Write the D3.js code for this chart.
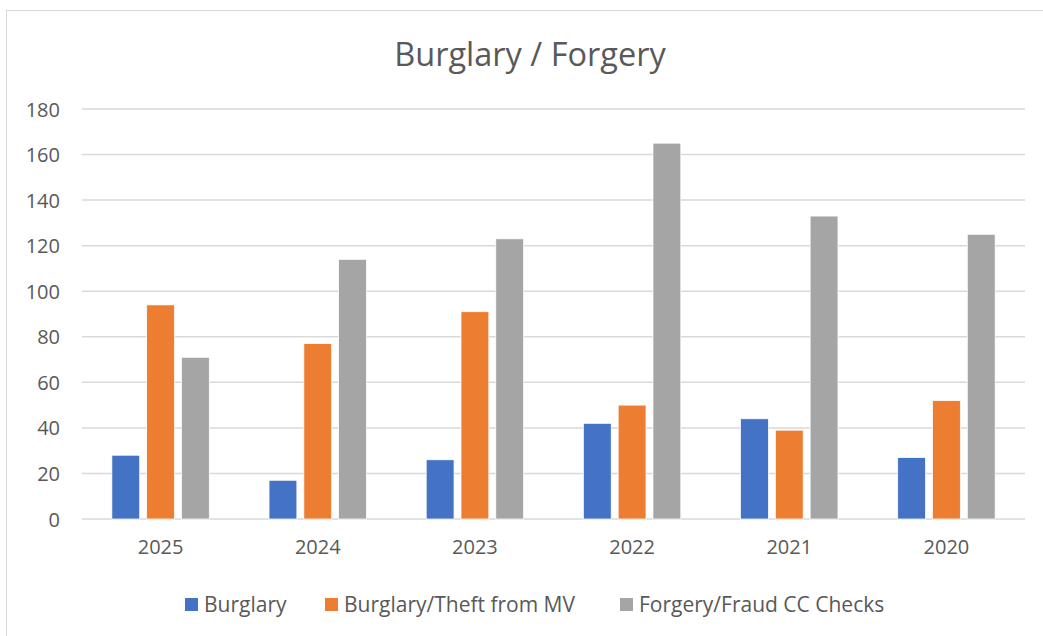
<!DOCTYPE html>
<html>
<head>
<meta charset="utf-8">
<script src="https://cdn.jsdelivr.net/npm/d3@7"></script>
<style>
  body { margin: 0; background: #fff; }
  text { font-family: "Open Sans", "Liberation Sans", sans-serif; fill: #595959; }
</style>
</head>
<body>
<div id="chart"></div>
<script>
var years = ["2025", "2024", "2023", "2022", "2021", "2020"];
var seriesNames = ["Burglary", "Burglary/Theft from MV", "Forgery/Fraud CC Checks"];
var burglary = [28, 17, 26, 42, 44, 27];
var theftMV = [94, 77, 91, 50, 39, 52];
var forgery = [71, 114, 123, 165, 133, 125];
var yTicks = [0, 20, 40, 60, 80, 100, 120, 140, 160, 180];
var colors = ["#4472c4", "#ed7d31", "#a5a5a5"];

var width = 1043, height = 636;
var margin = {left: 82, right: 18, top: 109, bottom: 117};

var svg = d3.select("#chart").append("svg")
  .attr("width", width)
  .attr("height", height);

// chart frame
svg.append("rect")
  .attr("x", 6.5).attr("y", 10.5)
  .attr("width", width).attr("height", height)
  .attr("fill", "none")
  .attr("stroke", "#d9d9d9");

svg.append("text")
  .attr("x", 530).attr("y", 66)
  .attr("text-anchor", "middle")
  .style("font-size", "32.5px")
  .text("Burglary / Forgery");

var x0 = d3.scaleBand()
  .domain(years)
  .range([margin.left, width - margin.right])
  .paddingInner(0.38)
  .paddingOuter(0.19);

var x1 = d3.scaleBand()
  .domain(d3.range(3))
  .range([0, x0.bandwidth()])
  .paddingInner(0.2);

var y = d3.scaleLinear()
  .domain([0, 180])
  .range([height - margin.bottom, margin.top]);

var grid = svg.append("g");
grid.selectAll("line")
  .data(yTicks)
  .enter().append("line")
  .attr("x1", margin.left).attr("x2", width - margin.right)
  .attr("y1", function(d) { return y(d); })
  .attr("y2", function(d) { return y(d); })
  .attr("stroke", "#d9d9d9")
  .attr("stroke-width", 1.5);

var yAxis = svg.append("g")
  .attr("transform", "translate(" + (margin.left - 22) + ",0)")
  .call(d3.axisLeft(y).tickValues(yTicks).tickSize(0).tickPadding(0));
yAxis.select(".domain").remove();
yAxis.selectAll("text").style("font-size", "20px").attr("fill", "#595959").attr("dy", "0.35em");

var xAxis = svg.append("g")
  .attr("transform", "translate(0," + (height - margin.bottom) + ")")
  .call(d3.axisBottom(x0).tickSize(0).tickPadding(21));
xAxis.select(".domain").remove();
xAxis.selectAll("text").style("font-size", "20px").attr("fill", "#595959");

var allSeries = [burglary, theftMV, forgery];
var groups = svg.append("g").selectAll("g")
  .data(years)
  .enter().append("g")
  .attr("transform", function(d) { return "translate(" + x0(d) + ",0)"; });

groups.selectAll("rect")
  .data(function(d, i) { return allSeries.map(function(s, j) { return {k: j, v: s[i]}; }); })
  .enter().append("rect")
  .attr("x", function(d) { return x1(d.k); })
  .attr("width", x1.bandwidth())
  .attr("y", function(d) { return y(d.v); })
  .attr("height", function(d) { return y(0) - y(d.v); })
  .attr("fill", function(d) { return colors[d.k]; })
  .attr("stroke", "#fff")
  .attr("stroke-width", 0.75);

// legend
var legendX = [185, 325, 620];
var legend = svg.append("g").selectAll("g")
  .data(seriesNames)
  .enter().append("g")
  .attr("transform", function(d, i) { return "translate(" + legendX[i] + ",598)"; });
legend.append("rect")
  .attr("width", 13).attr("height", 13)
  .attr("fill", function(d, i) { return colors[i]; });
legend.append("text")
  .attr("x", 19).attr("y", 6.5)
  .attr("dy", "0.35em")
  .style("font-size", "21px")
  .text(function(d) { return d; });
</script>
</body>
</html>
